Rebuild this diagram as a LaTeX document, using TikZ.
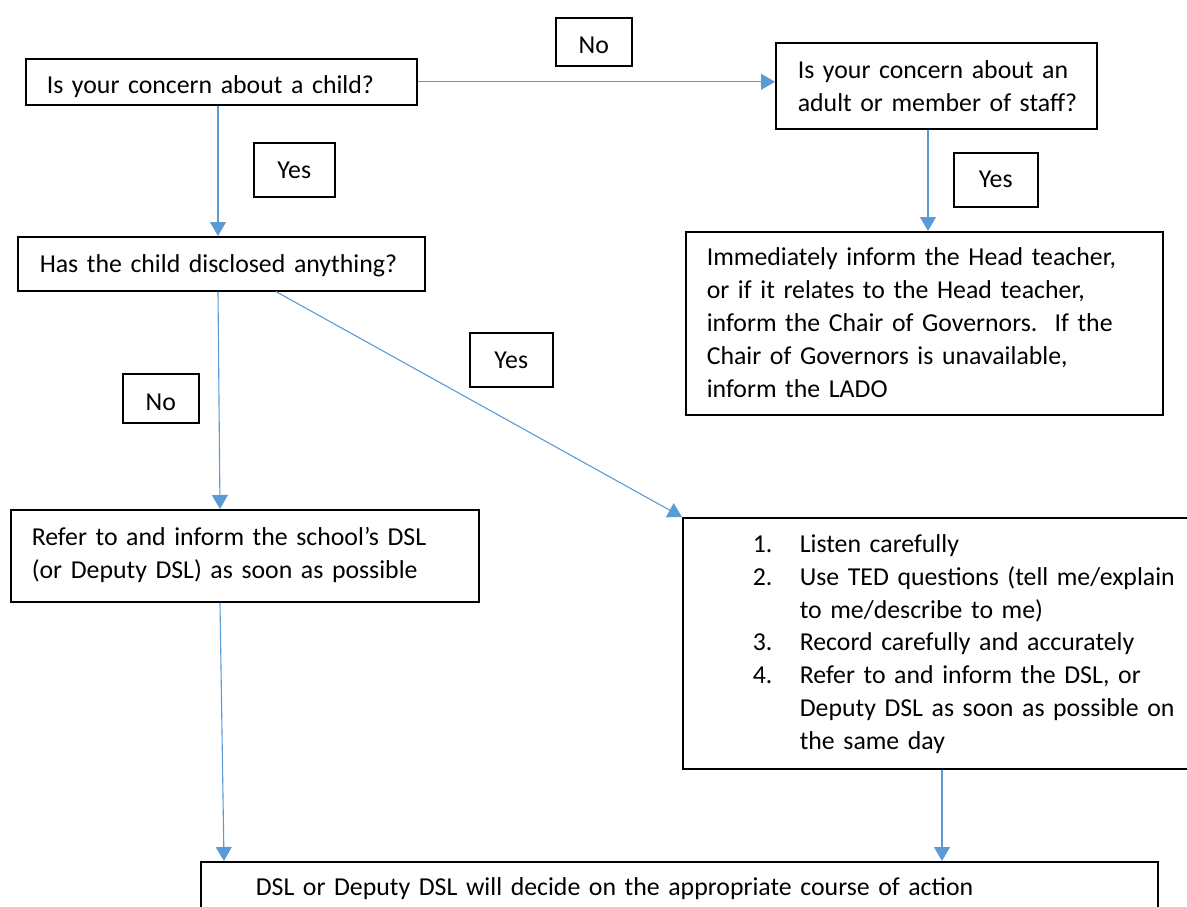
\documentclass[tikz,border=0pt]{standalone}
\usepackage{fontspec}
\setmainfont{Carlito}
\usetikzlibrary{arrows.meta}
\definecolor{linkblue}{RGB}{91,155,213}
\newcommand{\listnum}[1]{\hspace*{49pt}\makebox[47pt][l]{#1}}
\newcommand{\listgap}{\hspace*{96pt}}

\begin{document}
\begin{tikzpicture}[x=1pt,y=-1pt,
    every node/.style={font=\fontsize{25.8}{32.7}\selectfont},
    box/.style={draw,line width=1.6pt,anchor=north west,inner ysep=0pt,inner xsep=21pt,align=left},
    tag/.style={draw,line width=1.6pt,anchor=north west,inner sep=0pt,align=center},
    link/.style={draw=linkblue,line width=1.1pt,-{Triangle[width=16pt,length=14pt]}}]
    \useasboundingbox (0,0) rectangle (1187,907);
    \node[box,text width=349pt,text height=35pt,text depth=11pt] (q1) at (25,58) {Is your concern about a child?};
    \node[box,inner xsep=22pt,text width=277pt,text height=36pt,text depth=50pt] (q2) at (775,42)
        {\mbox{Is your concern about an}\\ \mbox{adult or member of staff?}};
    \node[box,inner xsep=22pt,text width=363pt,text height=36pt,text depth=18pt] (q3) at (17,236)
        {Has the child disclosed anything?};
    \node[box,text width=435pt,text height=34pt,text depth=149pt,font=\fontsize{25.8}{33}\selectfont] (head) at (685,231)
        {Immediately inform the Head teacher,\\ or if it relates to the Head teacher,\\
         inform the Chair of Governors.\ \ If the\\ Chair of Governors is unavailable,\\ inform the LADO};
    \node[box,text width=426pt,text height=36pt,text depth=56pt] (refer) at (10,509)
        {Refer to and inform the school’s DSL\\ (or Deputy DSL) as soon as possible};
    \node[box,text width=486pt,text height=35pt,text depth=216pt] (steps) at (682,517)
        {\listnum{1.}Listen carefully\\
         \listnum{2.}\mbox{Use TED questions (tell me/explain}\\
         \listgap to me/describe to me)\\
         \listnum{3.}Record carefully and accurately\\
         \listnum{4.}\mbox{Refer to and inform the DSL, or}\\
         \listgap \mbox{Deputy DSL as soon as possible on}\\
         \listgap the same day};
    \node[box,inner xsep=55pt,text width=847pt,text height=34pt,text depth=30pt] (decide) at (200,861)
        {DSL or Deputy DSL will decide on the appropriate course of action};
    \node[tag,text width=76pt,text height=36pt,text depth=12pt] (no1) at (555,17) {No};
    \node[tag,text width=81pt,text height=36pt,text depth=18pt] (yes1) at (253,142) {Yes};
    \node[tag,text width=84pt,text height=35pt,text depth=19pt] (yes2) at (953,152) {Yes};
    \node[tag,text width=83pt,text height=36pt,text depth=18pt] (yes3) at (469,332) {Yes};
    \node[tag,text width=76pt,text height=37pt,text depth=12pt] (no2) at (122,373) {No};
    \draw[link] (q1.east) -- (q1.east -| q2.west);
    \draw[link] (q1.south -| 218,0) -- (q3.north -| 218,0);
    \draw[link] (q2.south -| 928,0) -- (head.north -| 928,0);
    \draw[link] (q3.south -| 218,0) -- (refer.north -| 220,0);
    \draw[link] (q3.south -| 276,0) -- (steps.north west);
    \draw[link] (refer.south -| 220,0) -- (decide.north -| 224,0);
    \draw[link] (steps.south -| 942,0) -- (decide.north -| 942,0);
\end{tikzpicture}
\end{document}
